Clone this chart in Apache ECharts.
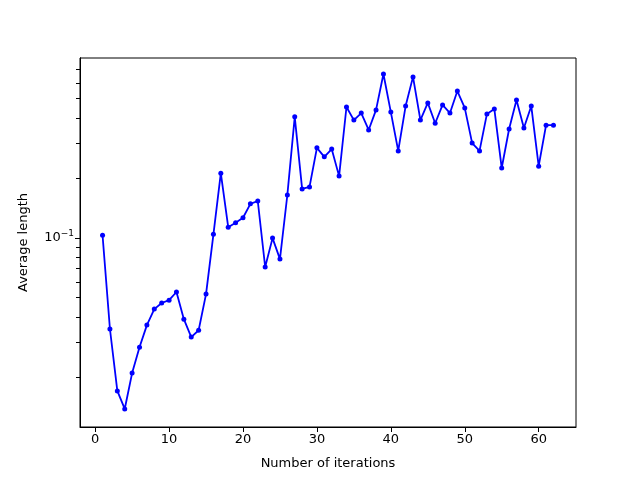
<!DOCTYPE html>
<html><head><meta charset="utf-8">
<script src="https://cdn.jsdelivr.net/npm/echarts@6/dist/echarts.min.js"></script>
<style>html,body{margin:0;padding:0;background:#fff}#c{width:640px;height:480px}</style>
</head><body><div id="c"></div>
<script>
const iterations = Array.from({length:62},(_,i)=>i+1);
const avgLength = [0.103,0.0348,0.0170,0.0138,0.0209,0.0282,0.0364,0.0438,0.0470,0.0486,
0.0534,0.0390,0.0317,0.0343,0.0521,0.104,0.211,0.113,0.119,0.126,
0.148,0.153,0.0713,0.0996,0.0781,0.164,0.405,0.176,0.180,0.283,
0.255,0.279,0.204,0.454,0.390,0.423,0.348,0.439,0.665,0.428,
0.273,0.459,0.643,0.390,0.476,0.376,0.465,0.423,0.546,0.449,
0.299,0.273,0.419,0.444,0.224,0.352,0.492,0.356,0.459,0.229,
0.368,0.368];
const xTicks = [0,10,20,30,40,50,60];
const yMajor = [0.1];
const yMinor = [0.02,0.03,0.04,0.05,0.06,0.07,0.08,0.09,0.2,0.3,0.4,0.5,0.6,0.7];
const xMin = -2.05, xMax = 65.05, yMin = 0.0112, yMax = 0.8;

const font = {fontFamily:'DejaVu Sans', fontSize:13, color:'#000'};
const chart = echarts.init(document.getElementById('c'));
chart.setOption({
  animation:false,
  grid:{left:80,right:64,top:58,bottom:53,show:true,borderColor:'#000',borderWidth:1},
  xAxis:{type:'value',min:xMin,max:xMax,name:'Number of iterations',nameLocation:'middle',nameGap:30,
    nameTextStyle:font,
    axisLine:{onZero:false,lineStyle:{color:'#000'}},splitLine:{show:false},
    axisTick:{customValues:xTicks,length:5,inside:false,lineStyle:{color:'#000'}},
    axisLabel:{customValues:xTicks,...font,margin:6}},
  yAxis:[{type:'log',logBase:10,min:yMin,max:yMax,name:'Average length',nameLocation:'middle',nameGap:50,
    nameTextStyle:font,
    axisLine:{show:true,onZero:false,lineStyle:{color:'#000'}},splitLine:{show:false},
    axisTick:{customValues:yMajor,length:5,lineStyle:{color:'#000'}},
    axisLabel:{customValues:yMajor,margin:6,formatter:()=>'{b|10}{s|−1}',
      rich:{b:{...font},s:{fontFamily:'DejaVu Sans',fontSize:9,color:'#000',verticalAlign:'top',padding:[0,0,8,0]}}}},
   {type:'value',min:Math.log10(yMin),max:Math.log10(yMax),position:'left',offset:0,
    axisLine:{show:true,onZero:false,lineStyle:{color:'#000'}},splitLine:{show:false},
    axisLabel:{show:true,customValues:yMinor.map(v=>Math.log10(v)),formatter:()=>''},
    axisTick:{show:true,customValues:yMinor.map(v=>Math.log10(v)),length:4,lineStyle:{color:'#000',width:1}}}],
  series:[
   {type:'line',yAxisIndex:0,data:iterations.map((x,i)=>[x,avgLength[i]]),
    symbol:'circle',symbolSize:5,itemStyle:{color:'#0000ff'},lineStyle:{color:'#0000ff',width:1.8}}]
});
</script></body></html>
